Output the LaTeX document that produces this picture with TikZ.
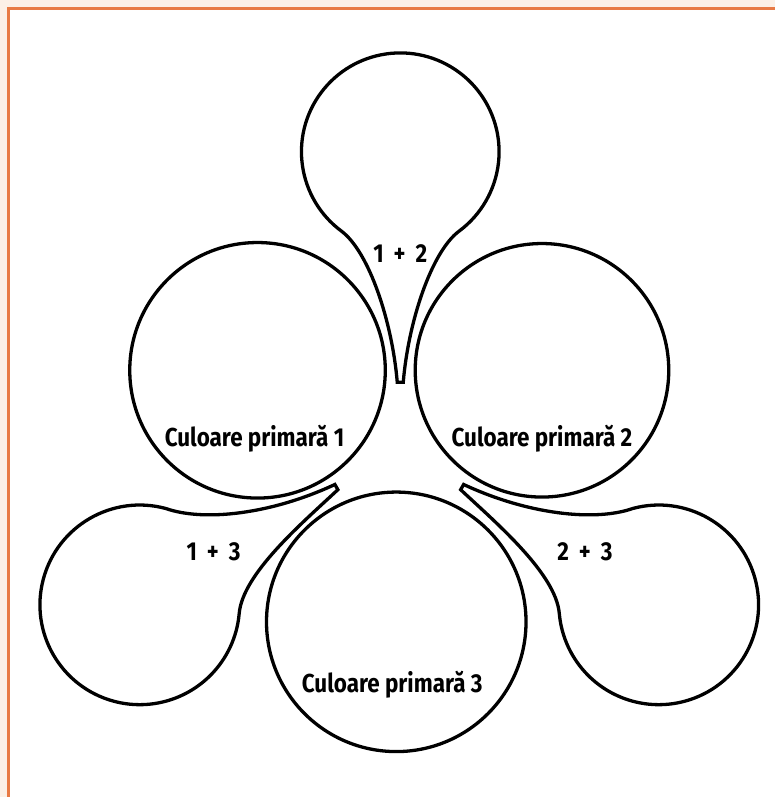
\documentclass[tikz,border=0pt]{standalone}
\usepackage{fontspec}
\setmainfont{Fira Sans}[FakeStretch=0.865]
\definecolor{framebg}{RGB}{252,240,230}
\definecolor{frameline}{RGB}{232,122,68}
\newcommand\lblfont{\fontsize{26}{30}\selectfont\bfseries}
\newcommand\sumfont{\lblfont\spaceskip=10pt\relax}

\begin{document}
\begin{tikzpicture}[x=1pt,y=1pt,
    outline/.style={draw=black,line width=3.3pt},
    bubble/.style={outline,circle,inner sep=0pt,minimum size=#1},
    lbl/.style={font=\lblfont,anchor=base,inner sep=0pt},
    sumlbl/.style={lbl,font=\sumfont}]
    % page and frame
    \fill[framebg] (0,0) rectangle (776,798);
    \fill[white] (8.5,0) rectangle (776,789.5);
    \draw[frameline,line width=3pt] (8.5,0) -- (8.5,789.5) -- (776,789.5);
    % primary colours
    \foreach \n/\x/\y/\d in {1/258/427/256,2/543/427/254,3/397/175/260} {
      \node[bubble=\d pt] (c\n) at (\x,\y) {};
    }
    % mixed colours
    \draw[outline] (398,415) .. controls (393,475) and (370,545.6) .. (342,566.5)
      arc[start angle=233.4,end angle=-53.4,radius=99pt]
      .. controls (432,545.6) and (409,475) .. (404,415) -- cycle;
    \draw[outline] (335.5,312.6) .. controls (272.1,283) and (204.5,275) .. (165.9,288.6)
      arc[start angle=75,end angle=355,radius=100pt]
      .. controls (243.1,223.1) and (302,273.3) .. (338.5,307.4) -- cycle;
    \draw[outline] (464.5,312.6) .. controls (527.9,283) and (595.5,275) .. (634.1,288.6)
      arc[start angle=105,end angle=-175,radius=100pt]
      .. controls (556.9,223.1) and (498,273.3) .. (461.5,307.4) -- cycle;
    % labels
    \node[lbl] (p1) at (255,351) {Culoare primară 1};
    \node[lbl] (p2) at (543,351) {Culoare primară 2};
    \node[lbl] (p3) at (393,104) {Culoare primară 3};
    \node[sumlbl] (m12) at (401,535) {1 + 2};
    \node[sumlbl] (m13) at (214,236) {1 + 3};
    \node[sumlbl] (m23) at (586,236) {2 + 3};
\end{tikzpicture}
\end{document}
